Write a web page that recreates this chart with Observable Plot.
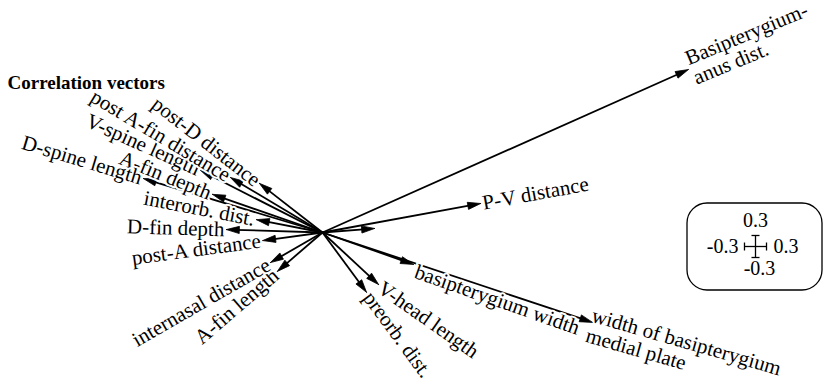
<!DOCTYPE html>
<html>
<head>
<meta charset="utf-8">
<script src="https://cdn.jsdelivr.net/npm/d3@7"></script>
<script src="https://cdn.jsdelivr.net/npm/@observablehq/plot@0.6"></script>
<style>
  html, body { margin: 0; padding: 0; background: #fff; }
  #chart svg { display: block; }
</style>
</head>
<body>
<div id="chart"></div>
<script>
// Correlation vectors of the morphometric variables (biplot loadings).
const variables = [
  "Basipterygium-\nanus dist.",
  "P-V distance",
  "width of basipterygium\nmedial plate",
  "basipterygium width",
  "V-head length",
  "preorb. dist.",
  "A-fin length",
  "internasal distance",
  "post-A distance",
  "D-fin depth",
  "interorb. dist.",
  "A-fin depth",
  "D-spine length",
  "V-spine length",
  "post A-fin distance",
  "post-D distance",
  ""
];
const loadingX = [9.97, 4.31, 7.36, 2.48, 1.53, 1.20, -1.23, -1.42, -1.63, -2.62, -1.80, -3.00, -4.88, -3.32, -2.51, -1.72, 1.42];
const loadingY = [4.44, 0.79, -2.45, -0.87, -1.42, -1.63, -1.06, -0.82, -0.22, 0.08, 0.35, 1.04, 1.47, 1.69, 1.50, 1.34, 0.11];

// Scale key: a cross of ±0.3 units
const keyValue = 0.3;
const keyLabels = ["0.3", "-0.3", "0.3", "-0.3"]; // top, left, right, bottom

// Layout
const W = 826, H = 382;
const PX = 36.7;                 // pixels per unit, same on both axes
const OX = 322, OY = 232;        // origin position in the frame
const xDomain = [-OX / PX, (W - OX) / PX];
const yDomain = [-(H - OY) / PX, OY / PX];
const HEAD = 13 / PX, HALF = 3.6 / PX, GAP = 2 / PX;

// hand-set label angles (degrees) where the text is eased off its vector
const labelAngle = new Map([
  ["Basipterygium-\nanus dist.", -22.5],
  ["width of basipterygium\nmedial plate", 16],
  ["V-head length", 35],
  ["V-spine length", 24],
  ["A-fin depth", 22]
]);
// small screen-pixel nudges [right, down] for crowded labels
const labelNudge = new Map([
  ["basipterygium width", [0, 6]]
]);

const vectors = variables.map((name, i) => {
  const x = loadingX[i], y = loadingY[i];
  const len = Math.hypot(x, y);
  return {name, x, y, ux: x / len, uy: y / len, i};
});

const shafts = vectors.map(v => ({
  x2: v.x - v.ux * HEAD * 0.6,
  y2: v.y - v.uy * HEAD * 0.6
}));

// filled triangular arrowheads
const heads = vectors.flatMap(v => {
  const bx = v.x - v.ux * HEAD, by = v.y - v.uy * HEAD;
  const px = -v.uy * HALF, py = v.ux * HALF;
  return [
    {i: v.i, x: v.x, y: v.y},
    {i: v.i, x: bx + px, y: by + py},
    {i: v.i, x: bx - px, y: by - py},
    {i: v.i, x: v.x, y: v.y}
  ];
});

// labels sit just past each tip, turned along the vector
const labels = vectors.filter(v => v.name).map(v => {
  const left = v.x < 0;
  const along = left
    ? Math.atan2(v.y, -v.x) * 180 / Math.PI
    : Math.atan2(-v.y, v.x) * 180 / Math.PI;
  const rotate = labelAngle.has(v.name) ? labelAngle.get(v.name) : along;
  const [nx, ny] = labelNudge.get(v.name) || [0, 0];
  return {
    text: v.name, left, rotate,
    x: v.x + v.ux * GAP + nx / PX,
    y: v.y + v.uy * GAP - ny / PX
  };
});
const leftLabels = labels.filter(d => d.left);
const rightLabels = labels.filter(d => !d.left && !d.text.includes("medial"));
const plateLabels = labels.filter(d => d.text.includes("medial"));

// key placement (units)
const kx = (755 - OX) / PX, ky = (OY - 246) / PX;
const keyBox = [{x1: (687 - OX) / PX, x2: (822 - OX) / PX, y1: (OY - 290) / PX, y2: (OY - 203) / PX}];
const cap = 4 / PX;
const keySegments = [
  {x1: kx - keyValue, y1: ky, x2: kx + keyValue, y2: ky},
  {x1: kx, y1: ky - keyValue, x2: kx, y2: ky + keyValue},
  {x1: kx - keyValue, y1: ky - cap, x2: kx - keyValue, y2: ky + cap},
  {x1: kx + keyValue, y1: ky - cap, x2: kx + keyValue, y2: ky + cap},
  {x1: kx - cap, y1: ky + keyValue, x2: kx + cap, y2: ky + keyValue},
  {x1: kx - cap, y1: ky - keyValue, x2: kx + cap, y2: ky - keyValue}
];

const font = "'Liberation Serif', 'Times New Roman', serif";
const textStyle = {fontFamily: font, fontSize: 21, fill: "black", stroke: "white", strokeWidth: 4};

const chart = Plot.plot({
  width: W,
  height: H,
  margin: 0,
  x: {domain: xDomain, axis: null},
  y: {domain: yDomain, axis: null},
  style: {background: "white", fontFamily: font},
  marks: [
    Plot.link(shafts, {x1: 0, y1: 0, x2: "x2", y2: "y2", stroke: "black", strokeWidth: 1.8}),
    Plot.line(heads, {x: "x", y: "y", z: "i", fill: "black", stroke: "black", strokeWidth: 0.8, curve: "linear"}),
    Plot.text(leftLabels, {x: "x", y: "y", text: "text", rotate: "rotate", textAnchor: "end", lineAnchor: "middle", ...textStyle}),
    Plot.text(rightLabels, {x: "x", y: "y", text: "text", rotate: "rotate", textAnchor: "start", lineAnchor: "middle", ...textStyle}),
    Plot.text(plateLabels, {x: "x", y: "y", text: "text", rotate: "rotate", textAnchor: "start", lineAnchor: "top", dy: -16, ...textStyle}),
    // title
    Plot.text(["Correlation vectors"], {text: d => d, frameAnchor: "top-left", dx: 7, dy: 75, textAnchor: "start", lineAnchor: "top", fontFamily: font, fontWeight: "bold", fontSize: 19, fill: "black"}),
    // scale key
    Plot.rect(keyBox, {x1: "x1", x2: "x2", y1: "y1", y2: "y2", rx: 20, fill: "none", stroke: "black", strokeWidth: 1.3}),
    Plot.link(keySegments, {x1: "x1", y1: "y1", x2: "x2", y2: "y2", stroke: "black", strokeWidth: 1.3}),
    Plot.text([keyLabels[0]], {text: d => d, x: kx, y: ky, dy: -26, textAnchor: "middle", fontFamily: font, fontSize: 20}),
    Plot.text([keyLabels[1]], {text: d => d, x: kx, y: ky, dx: -17, textAnchor: "end", fontFamily: font, fontSize: 20}),
    Plot.text([keyLabels[2]], {text: d => d, x: kx, y: ky, dx: 18, textAnchor: "start", fontFamily: font, fontSize: 20}),
    Plot.text([keyLabels[3]], {text: d => d, x: kx, y: ky, dx: 4, dy: 22, textAnchor: "middle", fontFamily: font, fontSize: 20})
  ]
});

document.getElementById("chart").append(chart);
</script>
</body>
</html>
